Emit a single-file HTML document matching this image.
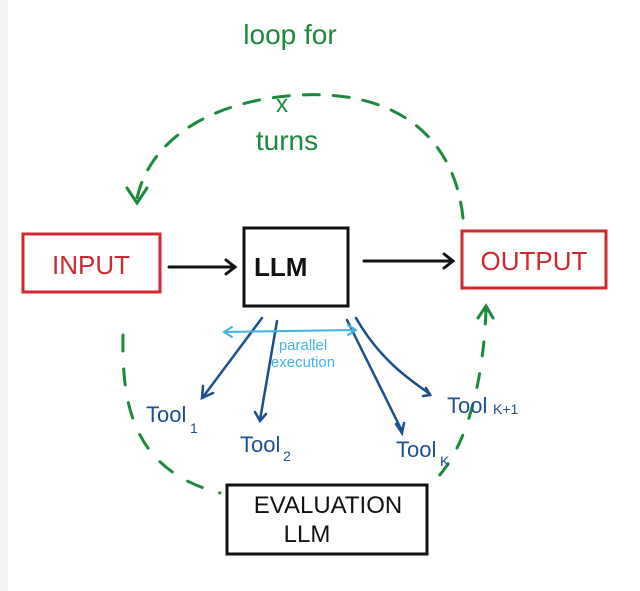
<!DOCTYPE html>
<html><head><meta charset="utf-8"><style>
html,body{margin:0;padding:0;background:#fff;}
svg{display:block;}
text{font-family:"Liberation Sans",sans-serif;}
</style></head><body>
<svg width="640" height="591" viewBox="0 0 640 591" xmlns="http://www.w3.org/2000/svg">
<rect x="0" y="0" width="8" height="591" fill="#f3f3f3"/>
<rect x="23" y="234" width="137" height="58" fill="none" stroke="#d0282e" stroke-width="3"/>
<text x="91" y="274" font-size="26" fill="#d0282e" text-anchor="middle">INPUT</text>
<rect x="244" y="228" width="104" height="78" fill="none" stroke="#111" stroke-width="3"/>
<text x="254" y="276" font-size="26" fill="#111" font-weight="bold">LLM</text>
<rect x="462" y="231" width="144" height="57" fill="none" stroke="#d0282e" stroke-width="3"/>
<text x="534" y="270" font-size="26" fill="#d0282e" text-anchor="middle">OUTPUT</text>
<rect x="227" y="485" width="200" height="69" fill="none" stroke="#111" stroke-width="3"/>
<text x="328" y="513" font-size="24" fill="#111" text-anchor="middle">EVALUATION</text>
<text x="307" y="542" font-size="24" fill="#111" text-anchor="middle">LLM</text>
<g stroke="#111" stroke-width="3" fill="none" stroke-linecap="round">
<path d="M169 267 L234 267 M226 260 L235 267 L226 274"/>
<path d="M364 261 L452 261 M444 254 L453 261 L444 268"/>
</g>
<g stroke="#1a8a3c" stroke-width="3" fill="none" stroke-linecap="round">
<path d="M463 218 C 455 140, 400 90, 300 95 C 210 100, 150 140, 137 198" stroke-dasharray="16 14"/>
<path d="M127 188 L137 203 L147 188"/>
<path d="M486 310 C 484 370, 470 450, 430 485" stroke-dasharray="14 18"/>
<path d="M478 318 L486 306 L493 318"/>
<path d="M123 335 C 122 400, 130 470, 220 493" stroke-dasharray="16 18"/>
</g>
<text x="290" y="44" font-size="28" fill="#1a8a3c" text-anchor="middle">loop for</text>
<text x="282" y="112" font-size="24" fill="#1a8a3c" text-anchor="middle">x</text>
<text x="287" y="150" font-size="28" fill="#1a8a3c" text-anchor="middle">turns</text>
<g stroke="#1c4f8c" stroke-width="2.5" fill="none" stroke-linecap="round">
<path d="M262 318 L203 397 M203 386 L202 398 L213 393"/>
<path d="M277 321 L260 420 M255 412 L260 421 L266 414"/>
<path d="M347 320 L402 431 M396 424 L402 433 L404 423"/>
<path d="M356 318 C 380 360, 410 380, 430 394 M426 388 L430 395 L423 396"/>
</g>
<g fill="#1c4f8c">
<text x="146" y="422" font-size="22">Tool</text><text x="190" y="433" font-size="14">1</text>
<text x="240" y="452" font-size="22">Tool</text><text x="283" y="461" font-size="14">2</text>
<text x="396" y="457" font-size="22">Tool</text><text x="440" y="466" font-size="14">K</text>
<text x="447" y="413" font-size="22">Tool</text><text x="493" y="414" font-size="14">K+1</text>
</g>
<g stroke="#3fb4e6" stroke-width="2" fill="none" stroke-linecap="round">
<path d="M225 332 L355 330 M232 327 L224 332 L232 337 M348 325 L356 330 L348 335"/>
</g>
<text x="303" y="350" font-size="15" fill="#3fb4e6" text-anchor="middle">parallel</text>
<text x="303" y="367" font-size="15" fill="#3fb4e6" text-anchor="middle">execution</text>
</svg>
</body></html>
